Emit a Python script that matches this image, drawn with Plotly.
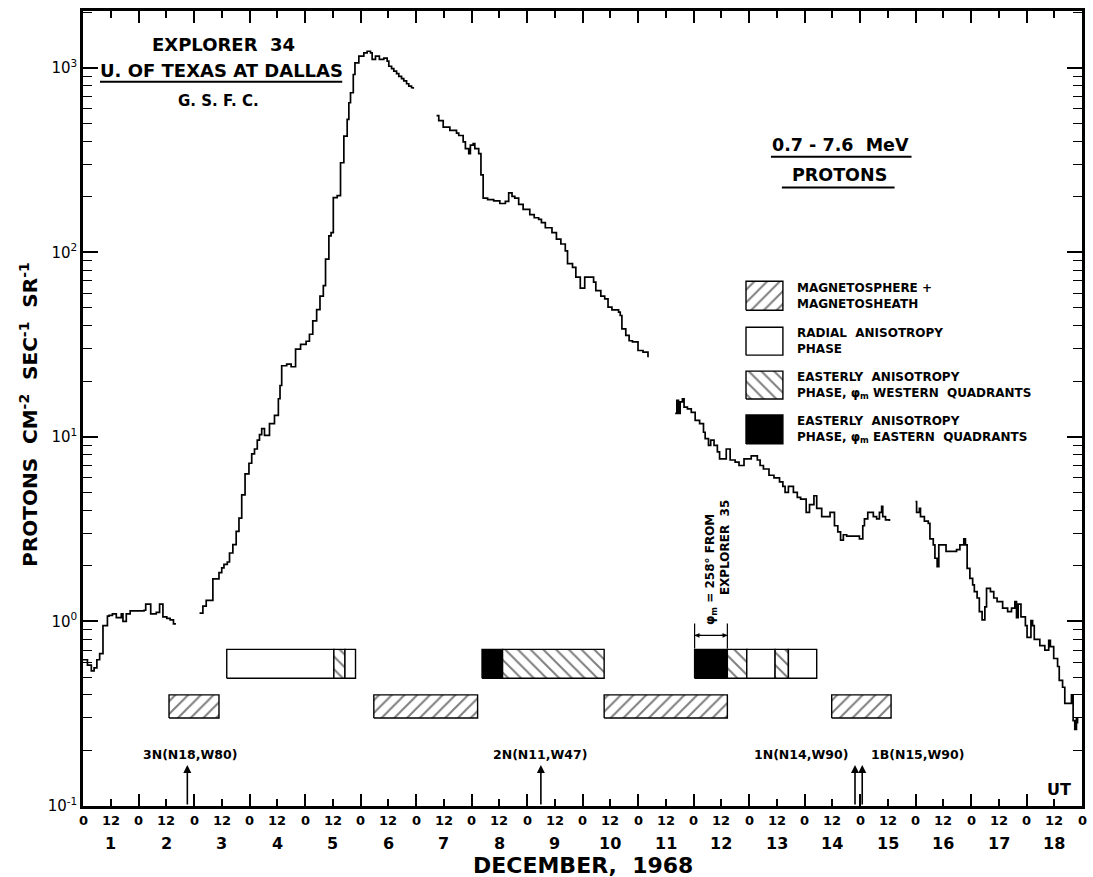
import math
import plotly.graph_objects as go

# ---------------------------------------------------------------------------
# Time is expressed as day-of-month in December 1968 (Dec 1, 00 UT = 1.0)
# ---------------------------------------------------------------------------

# 0.7-7.6 MeV proton intensity, Explorer 34 (protons cm^-2 s^-1 sr^-1)
t_seg1 = [1.00, 1.08, 1.15, 1.20, 1.25, 1.30, 1.36, 1.44, 1.47, 1.53, 1.60, 1.69,
          1.72, 1.78, 1.85, 2.10, 2.13, 2.22, 2.32, 2.38, 2.44, 2.51, 2.57, 2.63, 2.66]
v_seg1 = [0.62, 0.58, 0.54, 0.56, 0.62, 0.67, 0.95, 1.07, 1.08, 1.10, 1.05, 1.10,
          1.00, 1.10, 1.14, 1.15, 1.24, 1.10, 1.12, 1.24, 1.06, 1.04, 1.02, 0.97, 0.96]

t_seg2 = [3.10, 3.16, 3.22, 3.34, 3.45, 3.50, 3.54, 3.60, 3.64, 3.70, 3.76, 3.81,
          3.86, 3.92, 3.99, 4.04, 4.09, 4.14, 4.18, 4.22, 4.27, 4.30, 4.36, 4.45,
          4.52, 4.55, 4.58, 4.67, 4.75, 4.83, 4.92, 5.02, 5.08, 5.14, 5.21, 5.27,
          5.33, 5.37, 5.43, 5.47, 5.51, 5.58, 5.64, 5.70, 5.76, 5.79, 5.82, 5.87,
          5.90, 5.97, 6.06, 6.12, 6.18, 6.21, 6.27, 6.34, 6.42, 6.48, 6.51, 6.56,
          6.60, 6.65, 6.69, 6.74, 6.78, 6.83, 6.87, 6.92, 6.95]
v_seg2 = [1.11, 1.21, 1.30, 1.70, 1.84, 1.95, 2.04, 2.10, 2.35, 2.61, 3.08, 3.63,
          4.85, 6.3, 7.2, 8.1, 8.6, 9.6, 10.3, 11.1, 10.2, 10.2, 11.8, 13.1,
          16.1, 19.0, 24.3, 24.8, 24.0, 29.9, 31.7, 33.0, 36.0, 42.5, 49.0, 58.0,
          66.0, 92.0, 123.0, 128.0, 198.0, 203.0, 306.0, 427.0, 526.0, 647.0, 733.0, 920.0,
          1064.0, 1156.0, 1205.0, 1230.0, 1205.0, 1110.0, 1156.0, 1110.0, 1130.0, 1087.0, 1020.0, 990.0,
          960.0, 930.0, 900.0, 875.0, 850.0, 820.0, 796.0, 780.0, 770.0]

t_seg3 = [7.37, 7.41, 7.49, 7.61, 7.73, 7.77, 7.85, 7.89, 7.95, 7.98, 8.03, 8.06,
          8.13, 8.17, 8.21, 8.29, 8.40, 8.51, 8.61, 8.67, 8.73, 8.78, 8.85, 8.93,
          9.05, 9.13, 9.21, 9.26, 9.33, 9.45, 9.53, 9.61, 9.69, 9.73, 9.79, 9.82,
          9.88, 9.96, 10.04, 10.16, 10.20, 10.24, 10.33, 10.40, 10.46, 10.53, 10.65, 10.68,
          10.71, 10.78, 10.84, 10.90, 10.97, 11.00, 11.09, 11.18]
v_seg3 = [551, 518, 477, 458, 443, 430, 397, 365, 343, 381, 389, 365,
          343, 263, 197, 193, 190, 184, 189, 210, 201, 197, 182, 171,
          160, 154, 151, 145, 136, 128, 118, 111, 102, 87, 87, 83,
          73.5, 64, 73.5, 73.5, 69, 62, 58, 56, 50.5, 48.8, 47.4, 45.5,
          38.5, 35.5, 33.2, 32.7, 32.7, 29.4, 28.8, 27.0]

t_seg4 = [11.67, 11.70, 11.73, 11.76, 11.80, 11.83, 11.89, 11.96, 12.03, 12.11, 12.18, 12.21,
          12.27, 12.31, 12.37, 12.43, 12.47, 12.59, 12.66, 12.75, 12.82, 12.91, 13.04, 13.15,
          13.20, 13.26, 13.36, 13.45, 13.55, 13.61, 13.65, 13.71, 13.80, 13.87, 13.93, 14.03,
          14.09, 14.17, 14.22, 14.31, 14.46, 14.54, 14.60, 14.65, 14.70, 14.76, 14.89, 14.99,
          15.05, 15.08, 15.14, 15.24, 15.30, 15.35, 15.39, 15.41, 15.46, 15.53]
v_seg4 = [13.4, 15.8, 13.4, 15.5, 16.1, 14.5, 14.2, 13.6, 12.3, 11.8, 10.6, 9.8,
          9.0, 9.6, 9.0, 8.3, 7.6, 8.6, 7.5, 7.3, 7.0, 7.6, 7.9, 7.5,
          7.0, 6.7, 6.2, 6.0, 5.7, 5.4, 5.0, 5.4, 5.0, 4.7, 4.6, 3.9,
          4.3, 4.8, 4.1, 3.7, 3.9, 3.3, 3.06, 2.76, 2.95, 2.9, 2.9, 2.8,
          3.3, 3.6, 3.9, 3.7, 3.6, 3.9, 4.2, 3.7, 3.55, 3.5]

t_seg5 = [16.00, 16.02, 16.07, 16.09, 16.16, 16.23, 16.26, 16.32, 16.35, 16.39, 16.42, 16.55,
          16.64, 16.74, 16.80, 16.87, 16.90, 16.93, 16.98, 17.03, 17.06, 17.11, 17.15, 17.20,
          17.25, 17.28, 17.35, 17.41, 17.47, 17.57, 17.66, 17.73, 17.79, 17.82, 17.85, 17.90,
          17.98, 18.01, 18.08, 18.11, 18.14, 18.24, 18.33, 18.40, 18.43, 18.49, 18.56, 18.59,
          18.65, 18.69, 18.78, 18.81, 18.84, 18.87, 18.90, 18.92]
v_seg5 = [4.46, 3.9, 4.1, 3.7, 3.5, 3.4, 2.8, 2.6, 2.2, 1.98, 2.6, 2.4,
          2.4, 2.45, 2.6, 2.8, 2.6, 1.94, 1.71, 1.58, 1.45, 1.34, 1.13, 1.02,
          1.2, 1.51, 1.45, 1.34, 1.28, 1.18, 1.13, 1.18, 1.28, 1.05, 1.24, 1.06,
          0.95, 0.82, 1.01, 0.95, 0.80, 0.74, 0.70, 0.79, 0.73, 0.63, 0.57, 0.48,
          0.44, 0.36, 0.36, 0.40, 0.29, 0.26, 0.30, 0.28]

segments = [(t_seg1, v_seg1), (t_seg2, v_seg2), (t_seg3, v_seg3),
            (t_seg4, v_seg4), (t_seg5, v_seg5)]

# Anisotropy phases (upper row of bars)
phase_start = [3.59, 5.52, 5.72, 8.19, 8.56, 12.02, 12.61, 12.96, 13.47, 13.71]
phase_end = [5.52, 5.72, 5.91, 8.56, 10.39, 12.61, 12.96, 13.47, 13.71, 14.22]
phase_kind = ["radial", "west", "radial", "east", "west",
              "east", "west", "radial", "west", "radial"]

# Magnetosphere + magnetosheath passes (lower row of bars)
magneto_start = [2.55, 6.24, 10.39, 14.49]
magneto_end = [3.45, 8.11, 12.61, 15.56]

# Solar flares
flare_time = [2.88, 9.25, 14.91, 15.04]
flare_label = ["3N(N18,W80)", "2N(N11,W47)", "1N(N14,W90)", "1B(N15,W90)"]

# Axis ticks
day_ticks = list(range(1, 20))
y_major = [0.1, 1, 10, 100, 1000]
y_major_text = ["10<sup>-1</sup>", "10<sup>0</sup>", "10<sup>1</sup>",
                "10<sup>2</sup>", "10<sup>3</sup>"]
y_minor = [m * 10 ** e for e in range(-1, 4) for m in range(2, 10)]

# ---------------------------------------------------------------------------
FONT = "DejaVu Sans"
W, H = 1093, 877
ML, MR, MT, MB = 83, 8, 9, 71
PW, PH = W - ML - MR, H - MT - MB
Y_LOG_RANGE = [-1, 3.308]


def px_x(px):
    return (px - ML) / PW


def px_y(py):
    return (H - MB - py) / PH


def val_at(py):
    # data value at a given vertical pixel on the log axis
    frac = (H - MB - py) / PH
    return 10 ** (Y_LOG_RANGE[0] + frac * (Y_LOG_RANGE[1] - Y_LOG_RANGE[0]))


def t_at(px):
    return 1 + (px - ML) / PW * 18


def font(size, bold=True):
    return dict(family=FONT, size=size, color="black", weight=("bold" if bold else "normal"))


def label(x, y, text, size, xref="paper", xanchor="center", yanchor="middle", **kw):
    return dict(x=x, y=y, xref=xref, yref="paper", text=text, showarrow=False,
                xanchor=xanchor, yanchor=yanchor, font=font(size), **kw)


fig = go.Figure()

# Intensity curve
xs, ys = [], []
for t, v in segments:
    xs += t + [None]
    ys += v + [None]
fig.add_trace(go.Scatter(x=xs, y=ys, mode="lines", line_shape="hv",
                         line=dict(color="black", width=1.7),
                         connectgaps=False, hoverinfo="skip"))

STYLE = {
    "radial": dict(fillcolor="white", fillpattern=None),
    "west": dict(fillcolor="white",
                 fillpattern=dict(shape="\\", size=9, solidity=0.22,
                                  fgcolor="black", bgcolor="white")),
    "east": dict(fillcolor="black", fillpattern=None),
    "magneto": dict(fillcolor="white",
                    fillpattern=dict(shape="/", size=9, solidity=0.22,
                                     fgcolor="black", bgcolor="white")),
}


def rect(t0, t1, v0, v1, kind):
    st = STYLE[kind]
    kw = dict(x=[t0, t1, t1, t0, t0], y=[v0, v0, v1, v1, v0], mode="lines",
              fill="toself", fillcolor=st["fillcolor"],
              line=dict(color="black", width=1.4), hoverinfo="skip")
    if st["fillpattern"] is not None:
        kw["fillpattern"] = st["fillpattern"]
    fig.add_trace(go.Scatter(**kw))


UPPER = (0.492, 0.706)
LOWER = (0.300, 0.400)
for a, b, k in zip(phase_start, phase_end, phase_kind):
    rect(a, b, UPPER[0], UPPER[1], k)
for a, b in zip(magneto_start, magneto_end):
    rect(a, b, LOWER[0], LOWER[1], "magneto")

# Key boxes
key_items = [
    ("magneto", 280, 309, "MAGNETOSPHERE +<br>MAGNETOSHEATH"),
    ("radial", 326, 354, "RADIAL  ANISOTROPY<br>PHASE"),
    ("west", 370, 398, "EASTERLY  ANISOTROPY<br>PHASE, φ<sub>m</sub> WESTERN  QUADRANTS"),
    ("east", 414, 443, "EASTERLY  ANISOTROPY<br>PHASE, φ<sub>m</sub> EASTERN  QUADRANTS"),
]
annotations = []
for kind, ytop, ybot, text in key_items:
    rect(t_at(748), t_at(785), val_at(ybot), val_at(ytop), kind)
    annotations.append(label(px_x(797), px_y((ytop + ybot) / 2), text, 12,
                             xanchor="left", align="left"))

# Time-axis labels (hours and days)
for d in day_ticks:
    annotations.append(label(d, px_y(821), "0", 13, xref="x"))
    if d < 19:
        annotations.append(label(d + 0.5, px_y(821), "12", 13, xref="x"))
        annotations.append(label(d + 0.5, px_y(844), str(d), 16, xref="x"))

annotations.append(label(0.5, px_y(866), "DECEMBER,  1968", 22))
annotations.append(dict(x=px_x(28), y=px_y(568), xref="paper", yref="paper",
                        text="PROTONS  CM<sup>-2</sup>  SEC<sup>-1</sup>  SR<sup>-1</sup>",
                        textangle=-90, showarrow=False, xanchor="center", yanchor="bottom",
                        font=font(20)))

# Titles
annotations += [
    label(px_x(224), px_y(43), "EXPLORER  34", 18),
    label(px_x(222), px_y(69), "U. OF TEXAS AT DALLAS", 18),
    label(px_x(219), px_y(99), "G. S. F. C.", 15),
    label(px_x(843), px_y(143), "0.7 - 7.6  MeV", 17.5),
    label(px_x(842), px_y(173), "PROTONS", 17.5),
    label(px_x(1062), px_y(789), "UT", 16),
]

# Flare markers
for ft in flare_time:
    annotations.append(dict(x=ft, y=px_y(765), xref="x", yref="paper", text="",
                            showarrow=True, ax=0, ay=41, arrowhead=2, arrowsize=1,
                            arrowwidth=1.6, arrowcolor="black"))
lab_pos = [(2.93, "center"), (9.24, "center"), (t_at(852), "right"), (t_at(871), "left")]
for (x, anchor), text in zip(lab_pos, flare_label):
    annotations.append(label(x, px_y(754), text, 12.5, xref="x", xanchor=anchor))

# Explorer 35 azimuth marker over the eastern-quadrant block on Dec 12
e0, e1 = phase_start[5], phase_end[5]
for xe in (e0, e1):
    annotations.append(dict(x=xe, y=px_y(635), xref="x", yref="paper", text="",
                            showarrow=True, ax=(8 if xe == e0 else -8), ay=0,
                            arrowhead=2, arrowsize=0.8, arrowwidth=1.2, arrowcolor="black"))
annotations.append(dict(x=px_x(713), y=px_y(627), xref="paper", yref="paper",
                        text="φ<sub>m</sub> = 258° FROM", textangle=-90, showarrow=False,
                        xanchor="center", yanchor="bottom", font=font(12)))
annotations.append(dict(x=px_x(727), y=px_y(597), xref="paper", yref="paper",
                        text="EXPLORER  35", textangle=-90, showarrow=False,
                        xanchor="center", yanchor="bottom", font=font(12)))

shapes = [
    dict(type="line", xref="paper", yref="paper", x0=px_x(100), x1=px_x(343),
         y0=px_y(80), y1=px_y(80), line=dict(color="black", width=2)),
    dict(type="line", xref="paper", yref="paper", x0=px_x(773), x1=px_x(914),
         y0=px_y(155), y1=px_y(155), line=dict(color="black", width=2)),
    dict(type="line", xref="paper", yref="paper", x0=px_x(784), x1=px_x(897),
         y0=px_y(186), y1=px_y(186), line=dict(color="black", width=2)),
    dict(type="line", xref="x", yref="paper", x0=e0, x1=e0, y0=px_y(648), y1=px_y(623),
         line=dict(color="black", width=1.2)),
    dict(type="line", xref="x", yref="paper", x0=e1, x1=e1, y0=px_y(648), y1=px_y(623),
         line=dict(color="black", width=1.2)),
    dict(type="line", xref="x", yref="paper", x0=e0, x1=e1, y0=px_y(635), y1=px_y(635),
         line=dict(color="black", width=1.2)),
]

fig.update_layout(
    width=W, height=H, margin=dict(l=ML, r=MR, t=MT, b=MB),
    paper_bgcolor="white", plot_bgcolor="white", showlegend=False,
    font=dict(family=FONT, color="black"),
    annotations=annotations, shapes=shapes,
    xaxis=dict(range=[1, 19], showgrid=False, zeroline=False, showline=True,
               linecolor="black", linewidth=2.5, mirror="ticks",
               tickmode="array", tickvals=day_ticks, showticklabels=False,
               ticks="inside", ticklen=12, tickwidth=1.5, tickcolor="black",
               minor=dict(dtick=0.5, tick0=1, ticks="inside", ticklen=7,
                          tickwidth=1.5, tickcolor="black", showgrid=False)),
    yaxis=dict(type="log", range=Y_LOG_RANGE, showgrid=False, zeroline=False,
               showline=True, linecolor="black", linewidth=2.5, mirror="ticks",
               tickmode="array", tickvals=y_major, ticktext=y_major_text,
               ticks="inside", ticklen=15, tickwidth=1.5, tickcolor="black",
               tickfont=dict(family=FONT, size=15, color="black"),
               minor=dict(tickmode="array", tickvals=y_minor, ticks="inside",
                          ticklen=9, tickwidth=1.3, tickcolor="black", showgrid=False)),
)

fig.write_html("out.html")
